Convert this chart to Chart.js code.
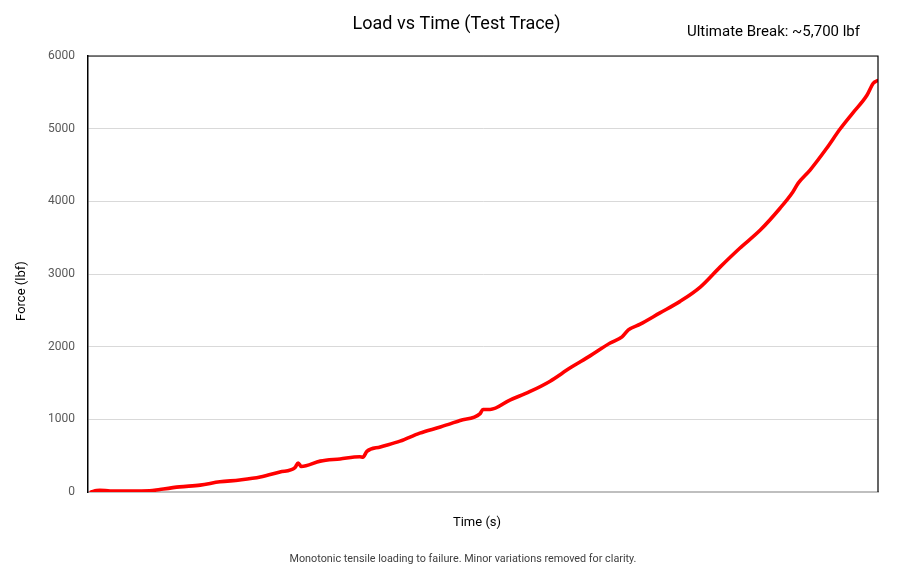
<!DOCTYPE html>
<html>
<head>
<meta charset="utf-8">
<script src="https://cdn.jsdelivr.net/npm/chart.js@4/dist/chart.umd.min.js"></script>
<style>
  html, body { margin: 0; padding: 0; background: #fff; }
  #wrap { width: 913px; height: 574px; position: relative; }
</style>
</head>
<body>
<div id="wrap"><canvas id="loadChart"></canvas></div>
<script>
// Test trace (time in % of test, force in lbf)
const timeValues = [
    0.4, 1.1, 1.5, 2.8, 5.3, 7.8, 9.1, 11.6, 14.2, 16.7, 19.2, 21.8, 24.3,
    26.2, 26.6, 27.0, 29.4, 31.9, 34.4, 34.8, 35.3, 37.0, 39.5, 42.0, 44.6,
    47.1, 49.6, 50.0, 50.9, 53.4, 55.9, 58.5, 61.0, 63.5, 66.1, 67.6, 68.4,
    69.9, 72.4, 74.9, 77.5, 80.0, 82.5, 85.1, 87.6, 89.2, 89.9, 91.4, 93.5,
    95.2, 96.8, 98.6, 99.4, 99.9
];
const forceValues = [
    0, 20, 25, 12, 12, 15, 35, 70, 95, 140, 165, 205, 275,
    335, 400, 350, 425, 455, 485, 480, 560, 620, 700, 810, 895,
    985, 1075, 1135, 1135, 1265, 1380, 1525, 1705, 1870, 2050, 2135, 2230,
    2310, 2465, 2620, 2820, 3095, 3355, 3605, 3905, 4125, 4250, 4430, 4730,
    4995, 5215, 5460, 5625, 5660
];
const yTicks = [0, 1000, 2000, 3000, 4000, 5000, 6000];

const chartTitle = 'Load vs Time (Test Trace)';
const xTitle = 'Time (s)';
const yTitle = 'Force (lbf)';
const breakNote = 'Ultimate Break: ~5,700 lbf';
const footNote = 'Monotonic tensile loading to failure. Minor variations removed for clarity.';

const FONT = 'Roboto, "Open Sans", sans-serif';

// frame lines, axis titles, annotation and footnote
const framePlugin = {
    id: 'frame',
    afterDraw(chart) {
        const { ctx, chartArea } = chart;
        ctx.save();
        ctx.strokeStyle = '#000';
        ctx.lineWidth = 1.2;
        ctx.beginPath();
        ctx.moveTo(chartArea.left, chartArea.top);
        ctx.lineTo(chartArea.right, chartArea.top);
        ctx.lineTo(chartArea.right, chartArea.bottom);
        ctx.stroke();

        ctx.fillStyle = '#000';
        ctx.textBaseline = 'middle';

        ctx.font = '15px ' + FONT;
        ctx.textAlign = 'right';
        ctx.fillText(breakNote, 860, 32);

        ctx.font = '13px ' + FONT;
        ctx.textAlign = 'center';
        ctx.fillText(xTitle, 477, 523);

        ctx.save();
        ctx.translate(22, 291);
        ctx.rotate(-Math.PI / 2);
        ctx.fillText(yTitle, 0, 0);
        ctx.restore();

        ctx.fillStyle = '#404040';
        ctx.font = '10.8px ' + FONT;
        ctx.fillText(footNote, 463, 559);
        ctx.restore();
    }
};

const points = timeValues.map((t, i) => ({ x: t, y: forceValues[i] }));

new Chart(document.getElementById('loadChart'), {
    type: 'line',
    data: {
        datasets: [{
            label: 'Force',
            data: points,
            borderColor: '#ff0000',
            borderWidth: 3.6,
            pointRadius: 0,
            cubicInterpolationMode: 'monotone',
            borderCapStyle: 'round',
            borderJoinStyle: 'round'
        }]
    },
    options: {
        responsive: true,
        maintainAspectRatio: false,
        animation: false,
        layout: { padding: { left: 0, right: 0, top: 0, bottom: 82 } },
        scales: {
            x: {
                type: 'linear',
                min: 0,
                max: 100,
                grid: { display: false, drawTicks: false },
                border: { display: true, color: '#bfbfbf', width: 2 },
                ticks: { display: false },
                afterFit(scale) { scale.height = 0; }
            },
            y: {
                min: 0,
                max: 6000,
                afterBuildTicks(scale) { scale.ticks = yTicks.map(v => ({ value: v })); },
                grid: { color: '#d9d9d9', lineWidth: 1, drawTicks: false },
                border: { display: true, color: '#000', width: 1.5 },
                ticks: {
                    color: '#595959',
                    font: { family: FONT, size: 12 },
                    padding: 13,
                    callback: v => String(v)
                },
                afterFit(scale) { scale.width = 88; }
            },
            // spacer on the right so the title stays centred on the page
            yRight: {
                position: 'right',
                display: true,
                grid: { display: false, drawTicks: false },
                border: { display: false },
                ticks: { display: false },
                afterFit(scale) { scale.width = 35; }
            }
        },
        plugins: {
            legend: { display: false },
            tooltip: { enabled: false },
            title: {
                display: true,
                text: chartTitle,
                color: '#000',
                font: { family: FONT, size: 18, weight: 'normal', lineHeight: 1.2 },
                padding: { top: 14, bottom: 20.4 }
            }
        }
    },
    plugins: [framePlugin]
});
</script>
</body>
</html>
